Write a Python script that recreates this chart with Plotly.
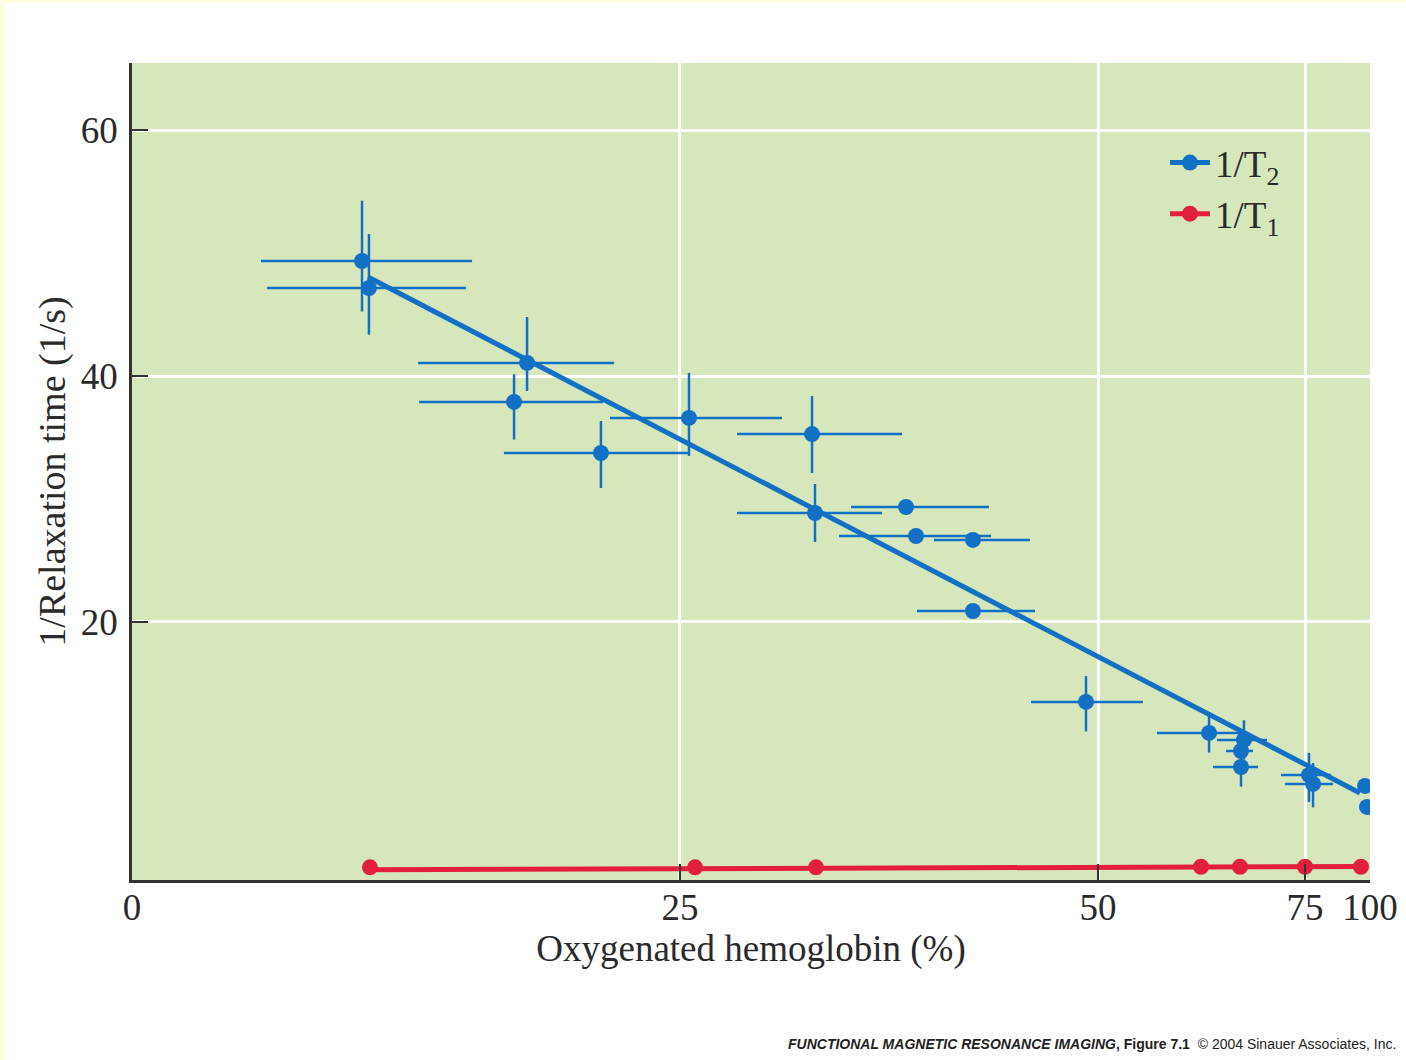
import plotly.graph_objects as go

# ---------------- data (x in axis-position units 0..100, labelled with % ticks) ----------------
t2_x = [18.58, 19.14, 31.91, 30.86, 37.88, 44.99, 54.93, 55.17, 62.52, 63.33, 67.93,
        67.93, 77.06, 87.00, 89.82, 89.58, 89.58, 95.07, 95.40, 99.60, 99.76]
t2_y = [49.35, 47.15, 41.06, 37.89, 33.74, 36.59, 35.28, 28.86, 29.35, 26.99, 26.67,
        20.89, 13.50, 10.98, 10.41, 9.51, 8.21, 7.56, 6.83, 6.67, 4.96]
t2_xerr_plus = [8.89, 7.84, 7.03, 7.19, 7.11, 7.51, 7.27, 5.41, 6.70, 6.06, 4.60,
                5.01, 4.60, 2.50, 1.86, 0.97, 1.37, 1.78, 1.62, 0, 0]
t2_xerr_minus = [8.16, 8.24, 8.80, 7.67, 7.84, 6.38, 6.06, 6.30, 4.44, 6.22, 3.15,
                 4.52, 4.44, 4.20, 2.18, 1.21, 2.26, 2.26, 2.26, 0, 0]
t2_yerr_plus = [4.90, 4.40, 3.74, 2.25, 2.60, 3.66, 3.09, 2.36, 0, 0, 0,
                0, 2.10, 1.46, 1.60, 0, 1.60, 1.80, 1.70, 0, 0]
t2_yerr_minus = [4.10, 3.80, 2.28, 3.06, 2.85, 3.09, 3.17, 2.36, 0, 0, 0,
                 0, 2.40, 1.60, 1.60, 0, 1.60, 2.20, 1.90, 0, 0]
t2_fit_x = [19.06, 99.19]
t2_fit_y = [48.05, 6.10]

t1_x = [19.22, 45.48, 55.25, 86.35, 89.50, 94.75, 99.27]
t1_y = [0.05, 0.05, 0.05, 0.10, 0.10, 0.10, 0.10]
t1_fit_x = [19.22, 99.27]
t1_fit_y = [-0.15, 0.12]

x_tick_pos = [0, 44.26, 78.03, 94.75, 100]
x_tick_text = ["0", "25", "50", "75", "100"]
y_tick_vals = [20, 40, 60]

# ---------------- style ----------------
BLUE = "#1271c4"
RED = "#e3203b"
SERIF = "Liberation Serif, Times New Roman, serif"
TXT = "#2a2a2a"

W, H = 1406, 1060
ML, MR, MT, MB = 132, 36, 63, 180
PW, PH = W - ML - MR, H - MT - MB

fig = go.Figure()

# 1/T2 data with error bars
fig.add_trace(go.Scatter(
    x=t2_x, y=t2_y, mode="markers", showlegend=False,
    marker=dict(color=BLUE, size=16),
    error_x=dict(type="data", symmetric=False, array=t2_xerr_plus, arrayminus=t2_xerr_minus,
                 color=BLUE, thickness=2.5, width=0),
    error_y=dict(type="data", symmetric=False, array=t2_yerr_plus, arrayminus=t2_yerr_minus,
                 color=BLUE, thickness=2.5, width=0),
))
fig.add_trace(go.Scatter(x=t2_fit_x, y=t2_fit_y, mode="lines", showlegend=False,
                         line=dict(color=BLUE, width=5)))

# 1/T1
fig.add_trace(go.Scatter(x=t1_fit_x, y=t1_fit_y, mode="lines", showlegend=False,
                         line=dict(color=RED, width=5), cliponaxis=False))
fig.add_trace(go.Scatter(x=t1_x, y=t1_y, mode="markers", showlegend=False,
                         marker=dict(color=RED, size=16), cliponaxis=False))

# legend entries
fig.add_trace(go.Scatter(x=[None], y=[None], mode="lines+markers", name="1/T<sub>2</sub>",
                         line=dict(color=BLUE, width=5), marker=dict(color=BLUE, size=16)))
fig.add_trace(go.Scatter(x=[None], y=[None], mode="lines+markers", name="1/T<sub>1</sub>",
                         line=dict(color=RED, width=5), marker=dict(color=RED, size=16)))

def px_x(p):
    return (p - ML) / PW

def px_y(p):
    return (MT + PH - p) / PH

fig.update_layout(
    width=W, height=H,
    margin=dict(l=ML, r=MR, t=MT, b=MB, autoexpand=False),
    paper_bgcolor="white",
    plot_bgcolor="#d6e7bc",
    font=dict(family=SERIF, size=37, color=TXT),
    legend=dict(x=px_x(1165), y=px_y(132), xanchor="left", yanchor="top",
                bgcolor="rgba(0,0,0,0)", font=dict(size=37, color=TXT),
                tracegroupgap=0, itemwidth=40),
    xaxis=dict(range=[0, 100], tickmode="array", tickvals=x_tick_pos, ticktext=x_tick_text,
               showgrid=True, gridcolor="white", gridwidth=3,
               ticks="inside", ticklen=16, tickwidth=2, tickcolor="#333",
               showline=True, linecolor="#333", linewidth=2.5, ticklabelstandoff=-7,
               zeroline=False, title=dict(text="Oxygenated hemoglobin (%)", standoff=0,
                                          font=dict(size=37)),
               tickfont=dict(size=37)),
    yaxis=dict(range=[-0.98, 65.45], tickmode="array", tickvals=y_tick_vals,
               showgrid=True, gridcolor="white", gridwidth=3,
               ticks="inside", ticklen=16, tickwidth=2, tickcolor="#333",
               showline=True, linecolor="#333", linewidth=2.5, ticklabelstandoff=4,
               zeroline=False, title=dict(text="1/Relaxation time (1/s)", standoff=4,
                                          font=dict(size=38)),
               tickfont=dict(size=37)),
    shapes=[
        dict(type="rect", xref="paper", yref="paper", x0=px_x(0), x1=px_x(W), y0=px_y(3), y1=px_y(0),
             fillcolor="#ffffe0", line=dict(width=0), layer="below"),
        dict(type="rect", xref="paper", yref="paper", x0=px_x(0), x1=px_x(5), y0=px_y(H), y1=px_y(0),
             fillcolor="#ffffe0", line=dict(width=0), layer="below"),
    ],
    annotations=[
        dict(xref="paper", yref="paper", x=px_x(1398), y=px_y(1044), xanchor="right", yanchor="middle",
             showarrow=False,
             text="<b><i>FUNCTIONAL MAGNETIC RESONANCE IMAGING</i>, Figure 7.1</b>  © 2004 Sinauer Associates, Inc.",
             font=dict(family="Liberation Sans, Arial, sans-serif", size=14, color="#222")),
    ],
)

fig.write_html("out.html", config={"displayModeBar": False},
               post_script="document.body.style.margin='0';document.body.style.overflow='hidden';")
